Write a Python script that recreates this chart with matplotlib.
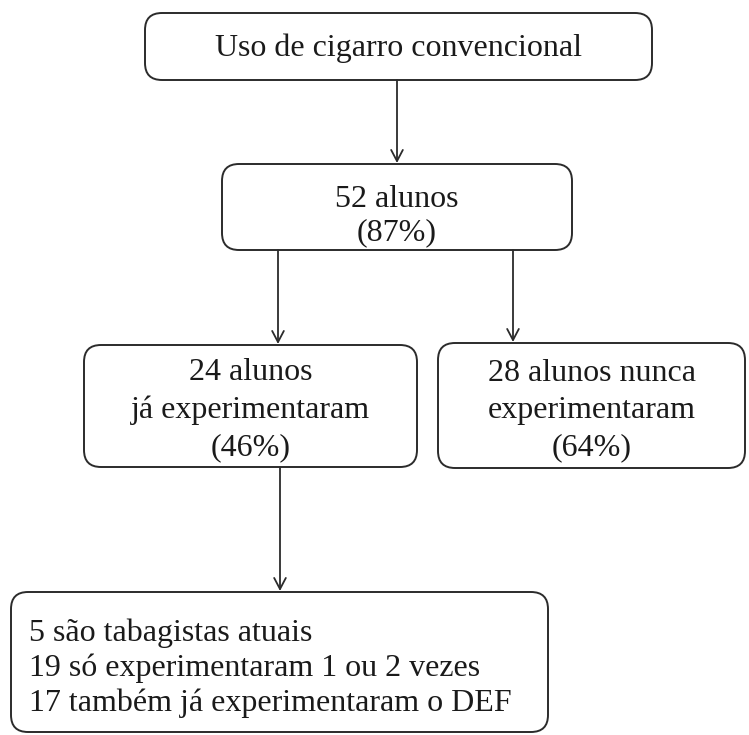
import matplotlib.pyplot as plt
from matplotlib.patches import FancyBboxPatch

# box texts
labels = [
    "Uso de cigarro convencional",
    "52 alunos\n(87%)",
    "24 alunos\njá experimentaram\n(46%)",
    "28 alunos nunca\nexperimentaram\n(64%)",
    "5 são tabagistas atuais\n19 só experimentaram 1 ou 2 vezes\n17 também já experimentaram o DEF",
]

# layout in pixels: x0, y0 (top), x1, y1 (bottom)
boxes = [
    (145, 13, 652, 80),
    (222, 164, 572, 250),
    (84, 345, 417, 467),
    (438, 343, 745, 468),
    (11, 592, 548, 732),
]
# text offset (dy) and line spacing per box
text_dy = [2, 9, 4, 5, 6]
spacing = [1.2, 1.22, 1.36, 1.36, 1.25]
# arrows: x, y start, y end
arrows = [(397, 80, 163), (278, 250, 344), (513, 250, 342), (280, 467, 591)]

fig = plt.figure(figsize=(7.49, 7.35), dpi=100)
ax = fig.add_axes([0, 0, 1, 1])
ax.set_xlim(0, 749)
ax.set_ylim(735, 0)
ax.axis('off')

font = dict(family='Liberation Serif', fontsize=23, color='#1a1a1a')

for i, (x0, y0, x1, y1) in enumerate(boxes):
    p = FancyBboxPatch((x0, y0), x1 - x0, y1 - y0,
                       boxstyle="round,pad=0,rounding_size=17",
                       fc='white', ec='#2b2b2b', lw=1.4)
    ax.add_patch(p)
    cy = (y0 + y1) / 2 + text_dy[i]
    if i == 4:
        ax.text(x0 + 18, cy, labels[i], ha='left', va='center',
                linespacing=spacing[i], **font)
    else:
        ax.text((x0 + x1) / 2, cy, labels[i], ha='center', va='center',
                linespacing=spacing[i], **font)

for x, ya, yb in arrows:
    ax.annotate("", xy=(x, yb), xytext=(x, ya),
                arrowprops=dict(arrowstyle="->,head_length=0.8,head_width=0.42",
                                color='#2b2b2b', lw=1.3, shrinkA=0, shrinkB=0))

fig.savefig("out.png", dpi=100)
